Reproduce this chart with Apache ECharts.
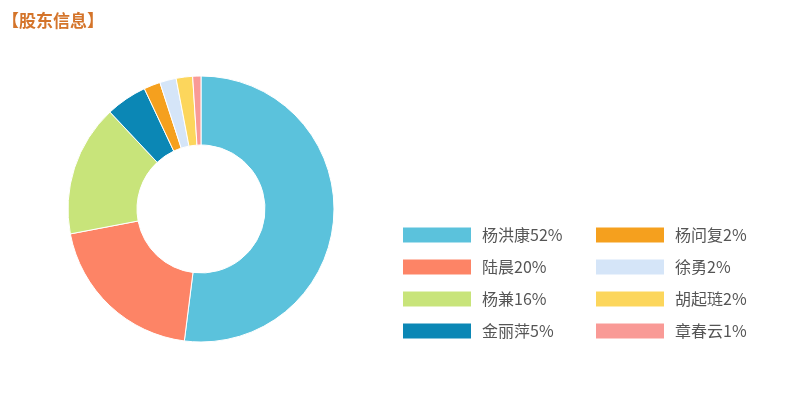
<!DOCTYPE html>
<html>
<head>
<meta charset="utf-8">
<script src="https://cdn.jsdelivr.net/npm/echarts@6/dist/echarts.min.js"></script>
<style>
  html, body { margin: 0; padding: 0; background: #fff; }
  #chart { width: 810px; height: 410px; }
</style>
</head>
<body>
<div id="chart"></div>
<script>
// 股东名称与持股比例
const names = ['杨洪康', '陆晨', '杨兼', '金丽萍', '杨问复', '徐勇', '胡起琏', '章春云']
const percents = [52, 20, 16, 5, 2, 2, 2, 1]
const colors = ['#5bc2dc', '#fd8466', '#c8e47a', '#0b87b5', '#f5a01e', '#d5e5f8', '#fcd65c', '#f99a96']

const seriesData = names.map((n, i) => ({ name: n, value: percents[i] }))
const pctMap = {}
names.forEach((n, i) => { pctMap[n] = percents[i] })

function legendOf(list, left) {
  return {
    orient: 'vertical',
    left: left,
    top: 225,
    padding: 0,
    itemWidth: 70,
    itemHeight: 17,
    itemGap: 12,
    icon: 'rect',
    data: list,
    formatter: name => name + pctMap[name] + '%',
    textStyle: {
      color: '#555',
      fontSize: 16,
      lineHeight: 20,
      padding: [0, 0, 0, 5],
      fontFamily: 'Noto Sans CJK SC'
    }
  }
}

const myChart = echarts.init(document.getElementById('chart'))
myChart.setOption({
  color: colors,
  animation: false,
  title: {
    text: '【股东信息】',
    left: 2,
    top: 12,
    padding: 0,
    textStyle: {
      color: '#d4742a',
      fontSize: 17,
      fontWeight: 'bold',
      fontFamily: 'Noto Sans CJK SC'
    }
  },
  legend: [
    legendOf(names.slice(0, 4), 401),
    legendOf(names.slice(4), 594)
  ],
  series: [
    {
      type: 'pie',
      center: [201, 209],
      radius: [64, 133],
      startAngle: 90,
      clockwise: true,
      label: { show: false },
      labelLine: { show: false },
      itemStyle: { borderColor: '#fff', borderWidth: 1 },
      data: seriesData
    }
  ]
})
</script>
</body>
</html>
